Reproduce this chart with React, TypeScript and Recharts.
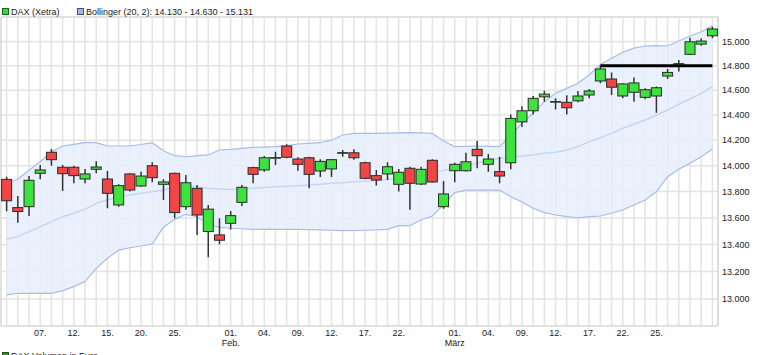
import React from 'react';
import {
  ComposedChart,
  XAxis,
  YAxis,
  CartesianGrid,
  Bar,
  Area,
  Line,
  ReferenceLine,
  ReferenceArea,
} from 'recharts';

// ---- categories (trading days, 2021) ----
const dates = [
  '04.01', '05.01', '06.01', '07.01', '08.01', '11.01', '12.01', '13.01', '14.01', '15.01',
  '18.01', '19.01', '20.01', '21.01', '22.01', '25.01', '26.01', '27.01', '28.01', '29.01',
  '01.02', '02.02', '03.02', '04.02', '05.02', '08.02', '09.02', '10.02', '11.02', '12.02',
  '15.02', '16.02', '17.02', '18.02', '19.02', '22.02', '23.02', '24.02', '25.02', '26.02',
  '01.03', '02.03', '03.03', '04.03', '05.03', '08.03', '09.03', '10.03', '11.03', '12.03',
  '15.03', '16.03', '17.03', '18.03', '19.03', '22.03', '23.03', '24.03', '25.03', '26.03',
  '29.03', '30.03', '31.03', '01.04',
];

// ---- DAX (Xetra) OHLC ----
const openV = [
  13894, 13678, 13685, 13941, 14105, 13988, 13988, 13897, 13972, 13897,
  13698, 13936, 13843, 14000, 13856, 13941, 13685, 13825, 13497, 13472,
  13559, 13718, 13985, 13967, 14060, 14154, 14052, 14062, 13959, 13975,
  14100, 14101, 14023, 13923, 13936, 13856, 13980, 13858, 14042, 13685,
  13961, 13961, 14128, 14011, 13954, 14023, 14345, 14434, 14546, 14505,
  14502, 14514, 14561, 14675, 14691, 14553, 14583, 14542, 14553, 14715,
  14800, 14894, 14979, 15048,
];
const highV = [
  13914, 13767, 13920, 14005, 14130, 14005, 14000, 13975, 14034, 13959,
  13856, 13941, 13954, 14027, 13895, 13946, 13928, 13851, 13698, 13597,
  13652, 13851, 13992, 14076, 14109, 14167, 14066, 14070, 14050, 14052,
  14122, 14128, 14031, 13967, 14027, 13975, 13992, 13992, 14050, 13881,
  14023, 14101, 14193, 14091, 14070, 14405, 14470, 14553, 14596, 14534,
  14560, 14594, 14610, 14800, 14745, 14656, 14704, 14615, 14629, 14773,
  14848, 15031, 15026, 15124,
];
const lowV = [
  13650, 13564, 13614, 13895, 14000, 13805, 13864, 13864, 13941, 13673,
  13685, 13800, 13838, 13872, 13736, 13597, 13661, 13472, 13306, 13402,
  13513, 13690, 13864, 13954, 14005, 14058, 13961, 13825, 13912, 13912,
  14070, 14047, 13895, 13846, 13889, 13800, 13661, 13851, 13868, 13669,
  13872, 13955, 13980, 13954, 13864, 13972, 14305, 14405, 14507, 14445,
  14405, 14502, 14534, 14656, 14561, 14534, 14507, 14526, 14418, 14691,
  14753, 14888, 14965, 15027,
];
const closeV = [
  13730, 13648, 13887, 13967, 14047, 13938, 13923, 13936, 13990, 13787,
  13846, 13812, 13920, 13907, 13874, 13640, 13868, 13622, 13666, 13432,
  13617, 13833, 13933, 14062, 14063, 14066, 14011, 13933, 14034, 14047,
  14102, 14062, 13902, 13889, 13992, 13949, 13864, 13972, 13874, 13782,
  14011, 14031, 14078, 14052, 13920, 14373, 14434, 14534, 14568, 14508,
  14458, 14553, 14594, 14773, 14624, 14651, 14659, 14604, 14620, 14745,
  14817, 14998, 15004, 15105,
];

// ---- Bollinger (20, 2) ----
const bbUpper = [
  13864, 13895, 13965, 14031, 14110, 14154, 14167, 14180, 14180, 14154,
  14154, 14154, 14166, 14180, 14117, 14078, 14070, 14078, 14084, 14123,
  14128, 14136, 14144, 14146, 14149, 14157, 14170, 14175, 14180, 14200,
  14241, 14254, 14254, 14254, 14256, 14257, 14259, 14257, 14253, 14193,
  14149, 14152, 14154, 14152, 14149, 14241, 14334, 14414, 14507, 14575,
  14615, 14656, 14724, 14811, 14861, 14911, 14945, 14963, 14966, 14963,
  15004, 15046, 15082, 15131,
];
const bbMiddle = [
  13441, 13459, 13496, 13534, 13571, 13609, 13635, 13665, 13711, 13736,
  13761, 13774, 13787, 13799, 13812, 13838, 13843, 13838, 13825, 13820,
  13818, 13820, 13825, 13832, 13838, 13842, 13845, 13851, 13856, 13864,
  13868, 13876, 13880, 13886, 13893, 13905, 13915, 13928, 13946, 13963,
  13980, 13998, 14019, 14041, 14058, 14064, 14076, 14084, 14097, 14105,
  14123, 14149, 14188, 14219, 14254, 14294, 14326, 14360, 14400, 14440,
  14486, 14529, 14575, 14630,
];
const bbLower = [
  13030, 13042, 13042, 13042, 13042, 13061, 13090, 13127, 13224, 13298,
  13359, 13376, 13389, 13404, 13529, 13589, 13627, 13609, 13554, 13529,
  13522, 13518, 13514, 13514, 13514, 13514, 13514, 13512, 13509, 13507,
  13504, 13505, 13507, 13509, 13514, 13541, 13541, 13584, 13614, 13698,
  13792, 13812, 13812, 13812, 13812, 13761, 13720, 13673, 13640, 13622,
  13609, 13601, 13609, 13614, 13635, 13660, 13698, 13736, 13799, 13915,
  13972, 14019, 14070, 14130,
];

// ---- tick labels ----
const tickDates = [
  '07.01', '12.01', '15.01', '20.01', '25.01', '01.02', '04.02', '09.02', '12.02',
  '17.02', '22.02', '01.03', '04.03', '09.03', '12.03', '17.03', '22.03', '25.03',
];
const tickDays = [
  '07.', '12.', '15.', '20.', '25.', '01.', '04.', '09.', '12.',
  '17.', '22.', '01.', '04.', '09.', '12.', '17.', '22.', '25.',
];
const monthDates = ['01.02', '01.03'];
const monthNames = ['Feb.', 'März'];
const yTicks = [13000, 13200, 13400, 13600, 13800, 14000, 14200, 14400, 14600, 14800, 15000];
const yDomain: [number, number] = [12807, 15206];

// resistance line
const resistanceLevel = 14800;
const resistanceFrom = '18.03';
const resistanceTo = '01.04';

const legendDax = 'DAX (Xetra)';
const legendBB = 'Bollinger (20, 2): 14.130 - 14.630 - 15.131';
const legendVol = 'DAX Volumen in Euro';

const data = dates.map((d, i) => ({
  date: d,
  open: openV[i],
  high: highV[i],
  low: lowV[i],
  close: closeV[i],
  upper: bbUpper[i],
  middle: bbMiddle[i],
  lower: bbLower[i],
}));

const FONT = '"Liberation Sans", Arial, Helvetica, sans-serif';
const GREEN = '#3de23d';
const RED = '#f24646';

const fmt = (v: number) => String(v).replace(/\B(?=(\d{3})+(?!\d))/g, '.');

const Candle = (props: any) => {
  const { x, y, width, height, payload } = props;
  if (x == null || !payload || !isFinite(y) || !isFinite(height)) return <g />;
  const yTop = Math.min(y, y + height);
  const h = Math.abs(height);
  const { open, close, high, low } = payload;
  const span = Math.log(high) - Math.log(low);
  const k = span > 0 ? h / span : 0;
  const yOf = (v: number) => yTop + (Math.log(high) - Math.log(v)) * k;
  const cx = x + width / 2;
  const top = yOf(Math.max(open, close));
  const bot = yOf(Math.min(open, close));
  const up = close >= open;
  const bw = 10;
  return (
    <g>
      <line x1={cx} x2={cx} y1={yTop} y2={yTop + h} stroke="#333" strokeWidth={1.5} />
      <rect
        x={cx - bw / 2}
        y={top}
        width={bw}
        height={Math.max(bot - top, 0.6)}
        fill={up ? GREEN : RED}
        stroke="#2b2b2b"
        strokeWidth={1}
      />
    </g>
  );
};

const XTick = (props: any) => {
  const { x, y, payload } = props;
  const idx = tickDates.indexOf(payload && payload.value);
  if (idx < 0) return <g />;
  const mi = monthDates.indexOf(payload.value);
  return (
    <g>
      <text x={x} y={y + 9.5} textAnchor="middle" fontSize={9} fill="#222" fontFamily={FONT}>
        {tickDays[idx]}
      </text>
      {mi >= 0 && (
        <text x={x} y={y + 20} textAnchor="middle" fontSize={9} fill="#222" fontFamily={FONT}>
          {monthNames[mi]}
        </text>
      )}
    </g>
  );
};

export default function App() {
  return (
    <div style={{ position: 'absolute', left: 0, top: 0, width: 758, height: 355, overflow: 'hidden', background: '#fff' }}>
      <ComposedChart
        width={758}
        height={355}
        data={data}
        margin={{ top: 17, right: 0, bottom: 0, left: 1 }}
      >
        <CartesianGrid stroke="#e3e3e3" strokeWidth={1.5} />
        <ReferenceArea y1={yDomain[0]} y2={yDomain[1]} fill="none" stroke="#d9d9d9" strokeWidth={1} ifOverflow="visible" />
        <XAxis
          dataKey="date"
          type="category"
          interval={0}
          height={29}
          tickSize={0}
          tickMargin={0}
          axisLine={false}
          tickLine={false}
          tick={<XTick />}
        />
        <YAxis
          orientation="right"
          type="number"
          scale="log"
          domain={yDomain}
          allowDataOverflow
          ticks={yTicks}
          interval={0}
          width={40}
          tickSize={0}
          tickMargin={4}
          tickLine={false}
          axisLine={{ stroke: '#d9d9d9' }}
          tickFormatter={fmt}
          tick={{ fontSize: 9, fill: '#222', fontFamily: FONT }}
        />
        <Area
          dataKey={(d: any) => [d.lower, d.upper]}
          type="linear"
          stroke="none"
          fill="#e6eefc"
          fillOpacity={0.85}
          isAnimationActive={false}
          activeDot={false}
          zIndex={100}
        />
        <Line dataKey="upper" type="linear" stroke="#a7bce8" strokeWidth={1.2} dot={false} activeDot={false} isAnimationActive={false} zIndex={200} />
        <Line dataKey="lower" type="linear" stroke="#a7bce8" strokeWidth={1.2} dot={false} activeDot={false} isAnimationActive={false} zIndex={200} />
        <Line dataKey="middle" type="linear" stroke="#c4d5f5" strokeWidth={1.5} dot={false} activeDot={false} isAnimationActive={false} zIndex={200} />
        <Bar
          dataKey={(d: any) => [d.low, d.high]}
          shape={<Candle />}
          isAnimationActive={false}
          zIndex={700}
        />
        <ReferenceLine
          segment={[
            { x: resistanceFrom, y: resistanceLevel },
            { x: resistanceTo, y: resistanceLevel },
          ]}
          stroke="#000"
          strokeWidth={3}
          zIndex={900}
        />
      </ComposedChart>
      <svg width={758} height={355} style={{ position: 'absolute', left: 0, top: 0, pointerEvents: 'none' }}>
        <rect x={2.5} y={8.5} width={6} height={6} fill="#38d838" stroke="#1f5f1f" strokeWidth={1} />
        <text x={11} y={15} fontSize={9} fill="#222" fontFamily={FONT}>{legendDax}</text>
        <rect x={77.5} y={8.5} width={6} height={6} fill="#a3b6e3" stroke="#3f5288" strokeWidth={1} />
        <text x={86} y={15} fontSize={9} fill="#222" fontFamily={FONT}>{legendBB}</text>
        <rect x={2.5} y={352.5} width={6} height={6} fill="#2f8f2f" stroke="#1f4f1f" strokeWidth={1} />
        <text x={11} y={359} fontSize={9} fill="#222" fontFamily={FONT}>{legendVol}</text>
      </svg>
    </div>
  );
}
